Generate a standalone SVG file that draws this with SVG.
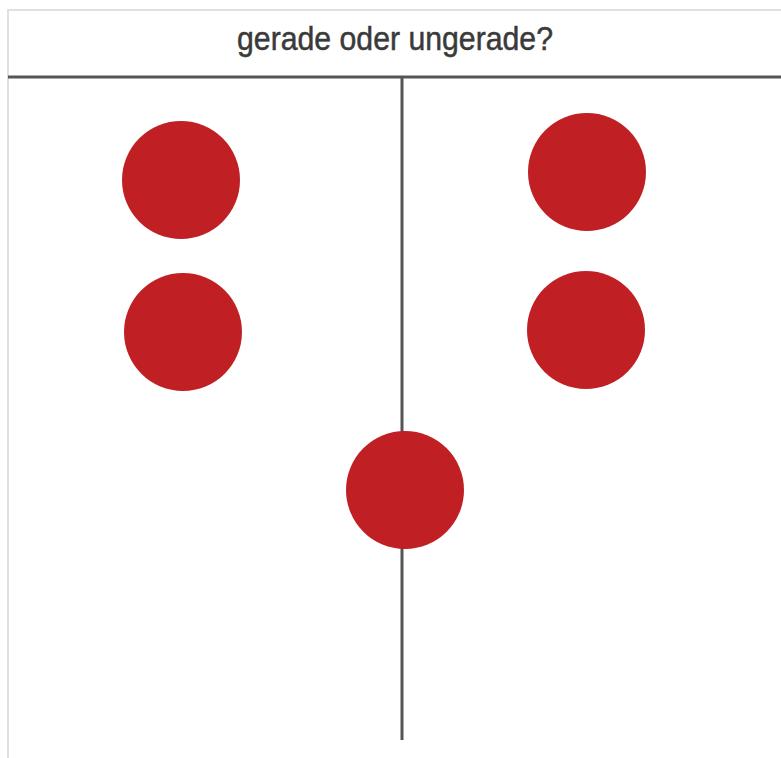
<svg xmlns="http://www.w3.org/2000/svg" width="781" height="758" viewBox="0 0 781 758">
<style>
.frame{fill:none;stroke:#e0e0e0;stroke-width:2}
.line{stroke:#555;stroke-width:3;fill:none}
.dot{fill:#c02024}
.title{font-family:"Liberation Sans",Arial,sans-serif;font-size:33px;fill:#3a3a3a;stroke:#3a3a3a;stroke-width:0.5;text-anchor:middle}
</style>
<rect width="781" height="758" fill="#fff"/>
<g id="frame">
<path class="frame" d="M782 10 H8 V758"/>
</g>
<g id="title"><text class="title" x="395" y="50" textLength="316" lengthAdjust="spacingAndGlyphs">gerade oder ungerade?</text></g>
<g id="connectors">
<line class="line" x1="8" y1="77" x2="781" y2="77"/>
<line class="line" x1="402" y1="77" x2="402" y2="740"/>
</g>
<g id="dot1"><circle class="dot" cx="181" cy="180" r="59"/></g>
<g id="dot2"><circle class="dot" cx="183" cy="332" r="59"/></g>
<g id="dot3"><circle class="dot" cx="587" cy="172" r="59"/></g>
<g id="dot4"><circle class="dot" cx="586" cy="330" r="59"/></g>
<g id="dot5"><circle class="dot" cx="405" cy="490" r="59"/></g>
</svg>
